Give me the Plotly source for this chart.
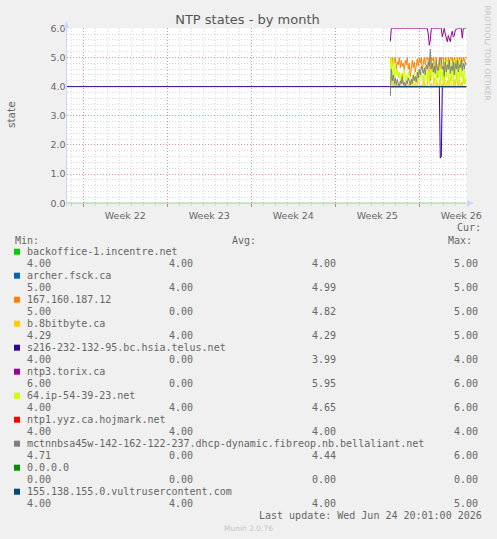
import plotly.graph_objects as go
import pandas as pd

W, H = 497, 539

# ---------------- data ----------------
series_names = [
    "backoffice-1.incentre.net",
    "archer.fsck.ca",
    "167.160.187.12",
    "b.8bitbyte.ca",
    "s216-232-132-95.bc.hsia.telus.net",
    "ntp3.torix.ca",
    "64.ip-54-39-23.net",
    "ntp1.yyz.ca.hojmark.net",
    "mctnnbsa45w-142-162-122-237.dhcp-dynamic.fibreop.nb.bellaliant.net",
    "0.0.0.0",
    "155.138.155.0.vultrusercontent.com",
]
series_colors = ["#00cc00", "#0066b3", "#ff8000", "#ffcc00", "#330099", "#990099",
                 "#ccff00", "#ff0000", "#808080", "#008f00", "#00487d"]

cur_vals = [4.00, 5.00, 5.00, 4.29, 4.00, 6.00, 4.00, 4.00, 4.71, 0.00, 4.00]
min_vals = [4.00, 4.00, 0.00, 4.00, 0.00, 0.00, 4.00, 4.00, 0.00, 0.00, 4.00]
avg_vals = [4.00, 4.99, 4.82, 4.29, 3.99, 5.95, 4.65, 4.00, 4.44, 0.00, 4.00]
max_vals = [5.00, 5.00, 5.00, 5.00, 4.00, 6.00, 6.00, 4.00, 6.00, 0.00, 5.00]

axis_start = "2026-05-23 14:24"
axis_end = "2026-06-25 22:24"
week_ticks = ["2026-05-25", "2026-06-01", "2026-06-08", "2026-06-15", "2026-06-22"]
week_labels = ["Week 22", "Week 23", "Week 24", "Week 25", "Week 26"]
y_ticks = [0, 1, 2, 3, 4, 5, 6]

# recent samples (2-hourly) where most hosts report
recent_time = list(pd.date_range("2026-06-19 14:00", periods=77, freq="2h"))

backoffice_vals = [4.0] * 77
archer_vals = [4.0] * 77
n167_vals = [
    5.0, 4.8, 5.0, 4.7, 4.9, 5.0, 4.6, 4.85, 4.75, 5.0,
    4.65, 4.9, 4.7, 4.8, 4.55, 4.9, 4.75, 5.0, 4.6, 4.8,
    4.35, 4.7, 4.9, 4.65, 4.85, 4.5, 4.8, 4.95, 4.7, 5.0,
    4.8, 5.0, 4.6, 4.9, 5.0, 4.75, 5.0, 5.0, 4.85, 5.0,
    4.2, 5.0, 4.9, 5.0, 4.5, 5.0, 5.0, 4.3, 4.8, 5.0,
    4.6, 5.0, 4.95, 5.0, 4.4, 5.0, 4.85, 5.0, 5.0, 4.7,
    5.0, 4.9, 5.0, 4.55, 5.0, 4.8, 5.0, 5.0, 4.65, 5.0,
    4.9, 5.0, 4.75, 5.0, 4.85, 5.0, 5.0]
b8bit_vals = [
    5.0, 4.2, 4.0, 4.1, 4.0, 4.3, 4.05, 4.0, 4.15, 4.0,
    4.0, 4.2, 4.45, 4.1, 4.0, 4.05, 4.0, 4.25, 4.0, 4.1,
    4.0, 4.0, 4.3, 4.05, 4.0, 4.15, 4.0, 4.0, 4.6, 4.1,
    4.0, 4.05, 4.0, 4.2, 4.0, 4.1, 4.0, 4.0, 4.9, 4.2,
    4.0, 4.1, 4.0, 4.05, 4.3, 4.0, 4.0, 4.15, 4.0, 4.0,
    4.25, 4.0, 4.1, 4.0, 4.5, 4.05, 4.0, 4.2, 4.0, 4.0,
    4.35, 4.1, 4.0, 4.0, 4.2, 4.0, 4.45, 4.1, 4.0, 4.3,
    4.0, 4.15, 4.0, 4.4, 4.1, 4.2, 4.29]
s216_early = [4.0]
s216_vals = [4.0] * 50 + [1.55, 1.6] + [4.0] * 25
torix_vals = ([5.55] + [6.0] * 37 + [5.8, 5.42, 5.6] + [6.0] * 11
              + [5.71, 5.9, 6.0, 5.8, 5.6, 5.54, 5.75, 5.6, 5.54, 5.8, 5.9, 5.7, 5.75, 5.95, 5.95]
              + [6.0] * 5 + [5.66] + [6.0] * 4)
ip64_vals = [
    4.0, 5.0, 4.1, 4.95, 4.2, 4.8, 4.4, 4.6, 4.3, 4.5,
    4.2, 4.45, 4.1, 4.3, 4.6, 4.2, 4.4, 4.15, 4.5, 4.3,
    4.2, 4.1, 4.35, 4.2, 4.5, 4.1, 4.3, 4.2, 4.4, 4.6,
    4.3, 4.5, 4.2, 4.4, 4.1, 4.7, 4.3, 4.2, 4.5, 4.1,
    4.6, 4.3, 4.8, 4.2, 4.5, 4.9, 4.1, 4.6, 4.3, 4.85,
    4.1, 4.95, 4.2, 4.7, 4.05, 4.9, 4.3, 5.0, 4.1, 4.6,
    4.95, 4.2, 4.8, 4.05, 4.9, 4.4, 5.0, 4.1, 4.75, 4.2,
    4.95, 4.3, 4.85, 4.1, 4.6, 4.2, 4.0]
ntp1_vals = [4.0] * 77
mctn_vals = [
    3.68, 4.6, 4.2, 4.4, 4.1, 4.3, 4.05, 4.25, 4.1, 4.0,
    4.2, 4.1, 4.35, 4.05, 4.15, 4.0, 4.2, 4.1, 4.3, 4.15,
    4.05, 4.25, 4.1, 4.4, 4.2, 4.35, 4.15, 4.5, 4.3, 4.6,
    4.4, 4.7, 4.5, 4.45, 4.65, 4.4, 4.75, 4.6, 4.85, 4.7,
    5.28, 4.6, 4.8, 4.5, 4.7, 4.45, 4.9, 4.6, 4.55, 4.8,
    5.0, 4.95, 4.6, 4.7, 4.35, 4.85, 4.5, 4.75, 4.6, 4.9,
    4.45, 4.7, 4.55, 4.85, 4.4, 4.8, 4.6, 4.9, 4.5, 4.75,
    4.65, 4.9, 4.55, 4.8, 4.6, 4.85, 4.71]
zero_time = [axis_start, recent_time[-1]]
zero_vals = [0.0, 0.0]
vultr_vals = [4.0] * 77

series_xy = [
    (recent_time, backoffice_vals),
    (recent_time, archer_vals),
    (recent_time, n167_vals),
    (recent_time, b8bit_vals),
    ([axis_start] + recent_time, s216_early + s216_vals),
    (recent_time, torix_vals),
    (recent_time, ip64_vals),
    (recent_time, ntp1_vals),
    (recent_time, mctn_vals),
    (zero_time, zero_vals),
    (recent_time, vultr_vals),
]

# ---------------- helpers (pixel -> paper) ----------------
def px(x):
    return x / W


def py(y):
    return 1 - y / H


TXT = "#666666"
SANS = "DejaVu Sans"
MONO = "DejaVu Sans Mono"
MINOR_GRID = "rgba(150,150,150,0.35)"
MAJOR_GRID = "rgba(222,79,79,0.5)"
AXIS = "#CFD6F8"

fig = go.Figure()
for (xs, ys), name, col in zip(series_xy, series_names, series_colors):
    fig.add_trace(go.Scatter(x=xs, y=ys, mode="lines", name=name,
                             line=dict(color=col, width=1), showlegend=False,
                             hoverinfo="skip"))

annotations = []
shapes = []

# legend header
annotations.append(dict(text="Cur:", x=px(482), y=py(227.7), xanchor="right", yanchor="middle"))
annotations.append(dict(text="Min:", x=px(14), y=py(240), xanchor="left", yanchor="middle"))
annotations.append(dict(text="Avg:", x=px(231), y=py(240), xanchor="left", yanchor="middle"))
annotations.append(dict(text="Max:", x=px(447), y=py(240), xanchor="left", yanchor="middle"))

cols = [26, 168, 311, 453]
for i, (name, col) in enumerate(zip(series_names, series_colors)):
    yn = 251.7 + 24 * i
    yv = 263.5 + 24 * i
    shapes.append(dict(type="rect", xref="paper", yref="paper",
                       x0=px(14), x1=px(20), y0=py(yn + 3), y1=py(yn - 3),
                       fillcolor=col, line=dict(width=0)))
    annotations.append(dict(text=name, x=px(26), y=py(yn), xanchor="left", yanchor="middle"))
    for cx, v in zip(cols, [cur_vals[i], min_vals[i], avg_vals[i], max_vals[i]]):
        annotations.append(dict(text=f"{v:.2f}", x=px(cx), y=py(yv), xanchor="left", yanchor="middle"))

annotations.append(dict(text="Last update: Wed Jun 24 20:01:00 2026", x=px(483), y=py(515.5),
                        xanchor="right", yanchor="middle"))

for a in annotations:
    a.update(xref="paper", yref="paper", showarrow=False, borderpad=0,
             font=dict(family=MONO, size=10, color=TXT))

annotations.append(dict(text="Munin 2.0.76", x=px(248), y=py(528.3), xref="paper", yref="paper",
                        showarrow=False, xanchor="center", yanchor="middle",
                        font=dict(family=SANS, size=7.5, color="#c4c4c4")))
annotations.append(dict(text="RRDTOOL/ TOBI OETIKER", x=px(487.5), y=py(53), xref="paper",
                        yref="paper", showarrow=False, textangle=90, xanchor="center",
                        yanchor="middle", font=dict(family=SANS, size=7.6, color="#c4c4c4")))
annotations.append(dict(text="state", x=px(11), y=py(115), xref="paper", yref="paper",
                        showarrow=False, textangle=-90, xanchor="center", yanchor="middle",
                        font=dict(family=SANS, size=10.5, color=TXT)))

# axis line + arrows
shapes.append(dict(type="line", xref="paper", yref="paper", x0=px(66.5), x1=px(66.5),
                   y0=py(206), y1=py(24), line=dict(color=AXIS, width=1)))
shapes.append(dict(type="path", xref="paper", yref="paper",
                   path=f"M {px(63.5)},{py(28)} L {px(69.5)},{py(28)} L {px(66.5)},{py(21)} Z",
                   fillcolor=AXIS, line=dict(width=0)))
shapes.append(dict(type="path", xref="paper", yref="paper",
                   path=f"M {px(467)},{py(200.3)} L {px(467)},{py(206.3)} L {px(474)},{py(203.3)} Z",
                   fillcolor=AXIS, line=dict(width=0)))

fig.update_layout(
    width=W, height=H,
    margin=dict(l=0, r=0, t=0, b=0),
    paper_bgcolor="#F0F0F0",
    plot_bgcolor="#FFFFFF",
    title=dict(text="NTP states - by month", x=px(247.5), y=py(19.5), xanchor="center",
               yanchor="middle", xref="paper", yref="paper",
               font=dict(family=SANS, size=13, color="#555555")),
    xaxis=dict(
        type="date", range=[axis_start, axis_end], domain=[px(66.5), px(466.5)],
        tickmode="array", tickvals=week_ticks, ticktext=week_labels, ticklabelshift=42,
        showgrid=True, gridcolor=MAJOR_GRID, griddash="1px,2px", gridwidth=1,
        ticks="outside", ticklen=3, tickcolor="rgba(222,79,79,0.7)",
        minor=dict(dtick=86400000, tick0="2026-05-25", showgrid=True, gridcolor=MINOR_GRID,
                   griddash="1px,2px", ticks="outside", ticklen=2, tickcolor=MINOR_GRID),
        tickfont=dict(family=SANS, size=9.5, color=TXT),
        zeroline=False, showline=False, automargin=False, fixedrange=True,
    ),
    yaxis=dict(
        range=[0, 6], domain=[py(203.3), py(28.3)],
        tickmode="array", tickvals=y_ticks, tickformat=".1f",
        showgrid=True, gridcolor=MAJOR_GRID, griddash="1px,2px", gridwidth=1,
        minor=dict(dtick=0.2, tick0=0, showgrid=True, gridcolor=MINOR_GRID, griddash="1px,2px"),
        tickfont=dict(family=SANS, size=9.5, color=TXT),
        zeroline=False, showline=False, ticks="", automargin=False, fixedrange=True,
    ),
    annotations=annotations,
    shapes=shapes,
    showlegend=False,
)

fig.write_html(
    "out.html",
    config={"displayModeBar": False},
    post_script="document.body.style.margin='0';document.body.style.overflow='hidden';",
)
